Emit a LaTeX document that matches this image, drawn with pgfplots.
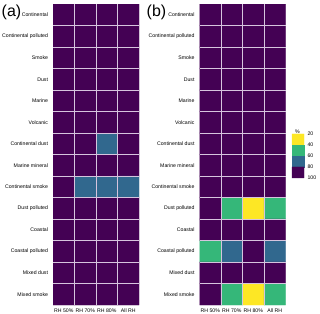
\documentclass[border=0pt]{standalone}
\usepackage{pgfplots}
\pgfplotsset{compat=1.18}
\usepackage{pgfplotstable}
\usepackage{fontspec}
\setmainfont{Liberation Sans}

\definecolor{gridc}{RGB}{214,196,222}

% x: 0=RH 50%, 1=RH 70%, 2=RH 80%, 3=All RH ; y: row index (0 = Continental)
% c: percentage class index: 0 = 20-40 %, 1 = 40-60 %, 2 = 60-80 %, 3 = 80-100 %
\pgfplotstableread{
x y c
0 0 3
1 0 3
2 0 3
3 0 3
0 1 3
1 1 3
2 1 3
3 1 3
0 2 3
1 2 3
2 2 3
3 2 3
0 3 3
1 3 3
2 3 3
3 3 3
0 4 3
1 4 3
2 4 3
3 4 3
0 5 3
1 5 3
2 5 3
3 5 3
0 6 3
1 6 3
2 6 2
3 6 3
0 7 3
1 7 3
2 7 3
3 7 3
0 8 3
1 8 2
2 8 2
3 8 2
0 9 3
1 9 3
2 9 3
3 9 3
0 10 3
1 10 3
2 10 3
3 10 3
0 11 3
1 11 3
2 11 3
3 11 3
0 12 3
1 12 3
2 12 3
3 12 3
0 13 3
1 13 3
2 13 3
3 13 3
}\dataA

\pgfplotstableread{
x y c
0 0 3
1 0 3
2 0 3
3 0 3
0 1 3
1 1 3
2 1 3
3 1 3
0 2 3
1 2 3
2 2 3
3 2 3
0 3 3
1 3 3
2 3 3
3 3 3
0 4 3
1 4 3
2 4 3
3 4 3
0 5 3
1 5 3
2 5 3
3 5 3
0 6 3
1 6 3
2 6 3
3 6 3
0 7 3
1 7 3
2 7 3
3 7 3
0 8 3
1 8 3
2 8 3
3 8 3
0 9 3
1 9 1
2 9 0
3 9 1
0 10 3
1 10 3
2 10 3
3 10 3
0 11 1
1 11 2
2 11 3
3 11 2
0 12 3
1 12 3
2 12 3
3 12 3
0 13 3
1 13 1
2 13 0
3 13 1
}\dataB

\pgfplotstableread{
x y c
0 30 0
1 30 0
0 50 1
1 50 1
0 70 2
1 70 2
0 90 3
1 90 3
}\dataC

\pgfplotsset{
  vcol/.style={
    colormap={vb}{rgb255=(253,231,37) rgb255=(53,183,121) rgb255=(49,104,142) rgb255=(68,1,84)},
    colormap access=direct,
  },
  hm/.style={
    vcol,
    scale only axis, anchor=south west,
    width=86bp, height=301bp,
    xmin=-0.5, xmax=3.5, ymin=-0.5, ymax=13.5,
    y dir=reverse,
    axis line style={draw=none},
    major tick length=0, minor tick length=0,
    xtick={0,1,2,3},
    xticklabels={RH 50\%,RH 70\%,RH 80\%,All RH},
    ytick={0,...,13},
    yticklabels={Continental,Continental polluted,Smoke,Dust,Marine,Volcanic,Continental dust,Marine mineral,Continental smoke,Dust polluted,Coastal,Coastal polluted,Mixed dust,Mixed smoke},
    tick label style={font=\fontsize{5.2}{6}\selectfont},
    yticklabel style={xshift=-1.5bp},
    xticklabel style={yshift=-0.5bp},
    minor xtick={0.5,1.5,2.5},
    minor ytick={0.5,1.5,...,12.5},
    xminorgrids, yminorgrids,
    minor grid style={draw=gridc, line width=0.6bp},
    axis on top,
  },
}

\begin{document}
\begin{tikzpicture}
\path[use as bounding box] (0,0) rectangle (320bp,314bp);

\begin{axis}[hm, at={(53bp,9bp)}]
\addplot[matrix plot*, mesh/cols=4, point meta=explicit] table[x=x, y=y, meta=c] {\dataA};
\end{axis}

\begin{axis}[hm, at={(199.5bp,9bp)}]
\addplot[matrix plot*, mesh/cols=4, point meta=explicit] table[x=x, y=y, meta=c] {\dataB};
\end{axis}

\begin{axis}[vcol, scale only axis, anchor=south west, at={(292bp,136bp)},
  width=12bp, height=44bp,
  xmin=-0.5, xmax=1.5, ymin=20, ymax=100, y dir=reverse,
  axis line style={draw=none}, major tick length=0,
  xtick=\empty, ytick={20,40,60,80,100},
  yticklabel pos=right,
  /pgf/number format/assume math mode=true,
  tick label style={font=\fontsize{5.2}{6}\selectfont},
  clip=false]
\addplot[matrix plot*, mesh/cols=2, point meta=explicit] table[x=x, y=y, meta=c] {\dataC};
\node[font=\fontsize{5.2}{6}\selectfont, anchor=south, inner sep=0.5bp] at (rel axis cs:0.45,1) {\%};
\end{axis}

\node[font=\fontsize{16}{16}\selectfont, anchor=west, inner sep=0] at (1.5bp,302bp) {(a)};
\node[font=\fontsize{16}{16}\selectfont, anchor=west, inner sep=0] at (146.5bp,302bp) {(b)};
\end{tikzpicture}
\end{document}
